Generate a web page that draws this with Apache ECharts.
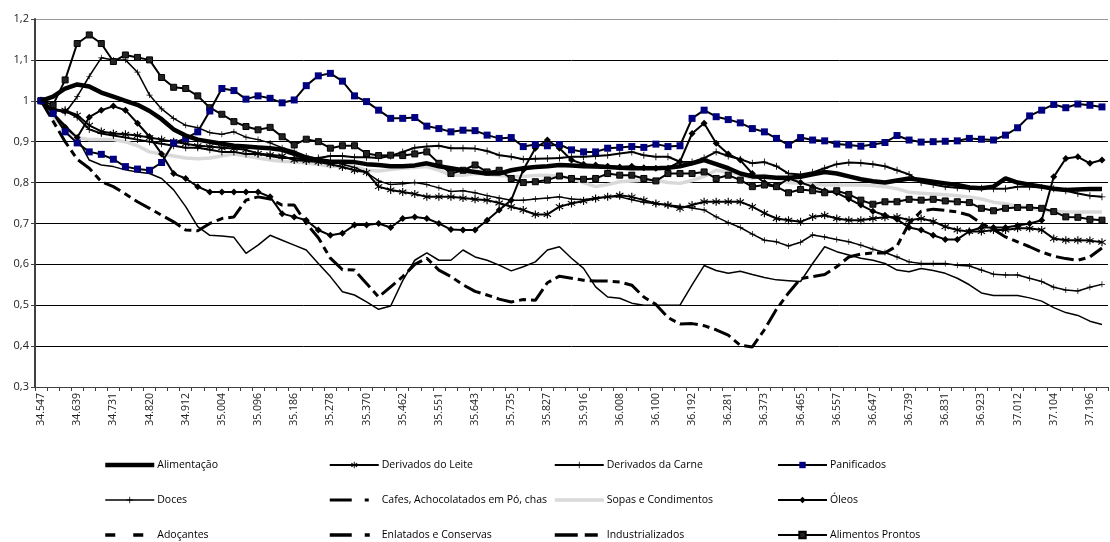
<!DOCTYPE html>
<html><head><meta charset="utf-8">
<script src="https://cdn.jsdelivr.net/npm/echarts@6/dist/echarts.min.js"></script>
<style>html,body{margin:0;padding:0;background:#fff}#c{width:1110px;height:542px}</style>
</head><body><div id="c"></div>
<script>
const categories = [34547,34578,34608,34639,34669,34700,34731,34759,34790,34820,34851,34881,34912,34943,34973,35004,35034,35065,35096,35125,35156,35186,35217,35247,35278,35309,35339,35370,35400,35431,35462,35490,35521,35551,35582,35612,35643,35674,35704,35735,35765,35796,35827,35855,35886,35916,35947,35977,36008,36039,36069,36100,36130,36161,36192,36220,36251,36281,36312,36342,36373,36404,36434,36465,36495,36526,36557,36586,36617,36647,36678,36708,36739,36770,36800,36831,36861,36892,36923,36951,36982,37012,37043,37073,37104,37135,37165,37196,37226];
const yTicks = [0.3,0.4,0.5,0.6,0.7,0.8,0.9,1.0,1.1,1.2];

const alimentacao = [1.0,1.01,1.03,1.04,1.035,1.02,1.01,1.0,0.99,0.975,0.955,0.93,0.915,0.905,0.9,0.895,0.89,0.888,0.886,0.884,0.88,0.87,0.86,0.855,0.851,0.851,0.85,0.845,0.843,0.84,0.84,0.842,0.847,0.84,0.835,0.83,0.826,0.822,0.822,0.83,0.835,0.838,0.84,0.843,0.842,0.84,0.839,0.838,0.836,0.835,0.835,0.835,0.836,0.84,0.847,0.855,0.845,0.835,0.822,0.815,0.814,0.812,0.812,0.814,0.82,0.826,0.822,0.815,0.808,0.803,0.8,0.805,0.81,0.806,0.802,0.798,0.794,0.788,0.786,0.79,0.81,0.8,0.795,0.79,0.785,0.782,0.783,0.784,0.784];
const derivadosLeite = [1.0,0.975,0.977,0.965,0.94,0.925,0.92,0.918,0.915,0.91,0.905,0.9,0.895,0.89,0.888,0.885,0.883,0.88,0.871,0.868,0.865,0.855,0.853,0.85,0.845,0.838,0.83,0.825,0.79,0.782,0.777,0.772,0.765,0.765,0.765,0.762,0.759,0.757,0.75,0.741,0.733,0.722,0.722,0.741,0.749,0.755,0.761,0.765,0.769,0.765,0.757,0.749,0.745,0.737,0.745,0.753,0.753,0.753,0.753,0.741,0.725,0.712,0.708,0.704,0.716,0.72,0.712,0.708,0.708,0.712,0.715,0.716,0.708,0.712,0.705,0.692,0.684,0.68,0.68,0.684,0.684,0.688,0.688,0.684,0.663,0.659,0.659,0.658,0.654];
const derivadosCarne = [1.0,0.98,0.975,0.96,0.93,0.92,0.915,0.91,0.905,0.9,0.895,0.89,0.885,0.885,0.88,0.875,0.875,0.87,0.87,0.865,0.86,0.86,0.855,0.86,0.865,0.865,0.862,0.862,0.86,0.865,0.875,0.885,0.888,0.89,0.884,0.884,0.883,0.877,0.867,0.863,0.857,0.858,0.859,0.86,0.863,0.863,0.865,0.867,0.871,0.875,0.867,0.863,0.863,0.851,0.85,0.86,0.875,0.865,0.857,0.847,0.85,0.84,0.822,0.82,0.825,0.835,0.845,0.849,0.848,0.845,0.84,0.83,0.82,0.8,0.795,0.79,0.787,0.785,0.786,0.785,0.785,0.79,0.79,0.788,0.785,0.78,0.773,0.768,0.765];
const panificados = [1.0,0.969,0.924,0.897,0.875,0.869,0.857,0.839,0.833,0.83,0.849,0.897,0.908,0.924,0.975,1.03,1.025,1.004,1.012,1.006,0.995,1.002,1.037,1.061,1.067,1.048,1.012,0.998,0.977,0.957,0.957,0.959,0.938,0.932,0.924,0.928,0.927,0.916,0.908,0.91,0.888,0.893,0.89,0.893,0.88,0.875,0.875,0.884,0.886,0.888,0.886,0.894,0.888,0.89,0.957,0.977,0.961,0.954,0.946,0.932,0.924,0.908,0.892,0.91,0.904,0.902,0.894,0.892,0.889,0.893,0.898,0.915,0.904,0.899,0.9,0.901,0.902,0.908,0.906,0.904,0.916,0.934,0.963,0.977,0.991,0.983,0.992,0.989,0.985];
const doces = [1.0,0.98,0.97,1.01,1.06,1.105,1.1,1.1,1.07,1.014,0.98,0.957,0.94,0.934,0.922,0.918,0.924,0.911,0.905,0.897,0.885,0.877,0.865,0.858,0.853,0.845,0.837,0.824,0.804,0.795,0.797,0.8,0.795,0.787,0.778,0.78,0.775,0.768,0.762,0.757,0.757,0.76,0.762,0.765,0.76,0.758,0.762,0.765,0.765,0.758,0.752,0.748,0.745,0.742,0.738,0.733,0.716,0.702,0.69,0.674,0.659,0.655,0.645,0.654,0.672,0.667,0.661,0.655,0.647,0.637,0.629,0.618,0.606,0.602,0.602,0.602,0.598,0.596,0.586,0.576,0.574,0.574,0.566,0.558,0.544,0.537,0.535,0.544,0.551];
const cafes = [1.0,0.97,0.94,0.91,0.855,0.843,0.839,0.831,0.826,0.822,0.81,0.782,0.741,0.692,0.671,0.669,0.666,0.627,0.647,0.671,0.659,0.647,0.635,0.602,0.57,0.533,0.525,0.508,0.49,0.498,0.56,0.61,0.628,0.61,0.61,0.635,0.618,0.61,0.598,0.584,0.594,0.606,0.635,0.643,0.615,0.59,0.545,0.52,0.517,0.505,0.5,0.5,0.5,0.5,0.55,0.597,0.585,0.578,0.583,0.575,0.568,0.562,0.56,0.558,0.602,0.643,0.631,0.623,0.615,0.61,0.602,0.586,0.582,0.59,0.585,0.578,0.566,0.55,0.53,0.524,0.524,0.524,0.518,0.51,0.494,0.482,0.475,0.461,0.453];
const sopas = [1.0,0.96,0.93,0.91,0.905,0.905,0.905,0.9,0.89,0.875,0.87,0.865,0.86,0.858,0.86,0.865,0.87,0.865,0.86,0.855,0.852,0.85,0.848,0.845,0.84,0.84,0.839,0.83,0.828,0.832,0.835,0.837,0.839,0.83,0.818,0.818,0.822,0.82,0.817,0.815,0.815,0.817,0.818,0.815,0.81,0.8,0.79,0.795,0.802,0.804,0.806,0.805,0.8,0.798,0.805,0.815,0.83,0.825,0.82,0.81,0.818,0.81,0.8,0.798,0.796,0.794,0.794,0.794,0.794,0.793,0.79,0.785,0.776,0.774,0.772,0.77,0.768,0.765,0.76,0.752,0.748,0.742,0.738,0.733,0.73,0.728,0.728,0.728,0.728];
const oleos = [1.0,0.97,0.935,0.91,0.96,0.977,0.987,0.977,0.945,0.912,0.87,0.822,0.81,0.79,0.777,0.777,0.777,0.777,0.777,0.765,0.724,0.716,0.708,0.684,0.671,0.676,0.696,0.696,0.7,0.69,0.712,0.716,0.712,0.7,0.685,0.684,0.684,0.708,0.733,0.757,0.831,0.884,0.904,0.884,0.855,0.845,0.843,0.84,0.838,0.84,0.836,0.835,0.835,0.851,0.92,0.945,0.896,0.87,0.855,0.822,0.8,0.79,0.81,0.8,0.79,0.78,0.775,0.76,0.745,0.73,0.72,0.71,0.69,0.684,0.671,0.661,0.661,0.681,0.69,0.69,0.69,0.695,0.7,0.708,0.814,0.859,0.863,0.847,0.855];
const adocantes = [];
const enlatados = [1.0,0.95,0.9,0.857,0.835,0.802,0.79,0.772,0.753,0.737,0.72,0.704,0.684,0.682,0.7,0.712,0.716,0.757,0.765,0.76,0.745,0.745,0.7,0.665,0.615,0.587,0.586,0.553,0.52,0.545,0.57,0.6,0.615,0.586,0.57,0.55,0.534,0.525,0.515,0.508,0.514,0.512,0.555,0.571,0.566,0.561,0.559,0.559,0.557,0.549,0.52,0.502,0.47,0.454,0.455,0.45,0.44,0.427,0.402,0.398,0.44,0.49,0.53,0.565,0.57,0.575,0.594,0.618,0.625,0.628,0.628,0.645,0.7,0.73,0.735,0.732,0.728,0.72,0.7,0.685,0.667,0.655,0.643,0.63,0.62,0.614,0.61,0.618,0.64];
const industrializados = [];
const alimentosProntos = [1.0,0.99,1.051,1.14,1.161,1.14,1.096,1.112,1.106,1.1,1.057,1.033,1.03,1.012,0.983,0.967,0.949,0.937,0.929,0.935,0.912,0.892,0.906,0.9,0.884,0.89,0.89,0.871,0.866,0.867,0.866,0.87,0.875,0.847,0.822,0.83,0.843,0.826,0.83,0.81,0.8,0.802,0.806,0.816,0.81,0.808,0.81,0.822,0.818,0.818,0.81,0.804,0.822,0.822,0.822,0.826,0.81,0.818,0.806,0.79,0.794,0.79,0.775,0.783,0.78,0.775,0.78,0.771,0.757,0.747,0.753,0.753,0.759,0.757,0.759,0.755,0.753,0.751,0.737,0.731,0.737,0.739,0.739,0.737,0.729,0.716,0.715,0.71,0.708];

const FONT = '"Open Sans", "Noto Sans", sans-serif';
const asterisk = 'path://M4.4,0h1.2v3.6l2.9-2.1l0.7,1l-3,2.1l3,2.1l-0.7,1l-2.9-2.1v3.6h-1.2v-3.6l-2.9,2.1l-0.7-1l3-2.1l-3-2.1l0.7-1l2.9,2.1z';
const plus = 'path://M4.4,0h1.2v4.4h4.4v1.2h-4.4v4.4h-1.2v-4.4h-4.4v-1.2h4.4z';

function mk(name, data, o) {
  return Object.assign({
    name, type: 'line', data, symbol: 'none', smooth: false,
    lineStyle: { color: '#000', width: 2 }, itemStyle: { color: '#000' },
    emphasis: { disabled: true }, animation: false
  }, o);
}
const series = [
  mk('Alimentação', alimentacao, { lineStyle: { color: '#000', width: 4.5 }, z: 5 }),
  mk('Derivados do Leite', derivadosLeite, { symbol: asterisk, symbolSize: 8 }),
  mk('Derivados da Carne', derivadosCarne, { symbol: plus, symbolSize: 7 }),
  mk('Panificados', panificados, { symbol: 'rect', symbolSize: 7, itemStyle: { color: '#000080' }, z: 4 }),
  mk('Doces', doces, { symbol: plus, symbolSize: 6, lineStyle: { color: '#000', width: 1.5 } }),
  mk('Cafes, Achocolatados em Pó, chas', cafes, { lineStyle: { color: '#000', width: 1.5 } }),
  mk('Sopas e Condimentos', sopas, { lineStyle: { color: '#d9d9d9', width: 3.5 }, itemStyle: { color: '#d9d9d9' }, z: 1 }),
  mk('Óleos', oleos, { symbol: 'diamond', symbolSize: 7 }),
  mk('Adoçantes', adocantes, { lineStyle: { color: '#000', width: 3.5, type: [10, 18] } }),
  mk('Enlatados e Conservas', enlatados, { lineStyle: { color: '#000', width: 3, type: [18, 5, 7, 5] } }),
  mk('Industrializados', industrializados, { lineStyle: { color: '#000', width: 3.5, type: [23, 7, 13, 7] } }),
  mk('Alimentos Prontos', alimentosProntos, { symbol: 'rect', symbolSize: 6, itemStyle: { color: '#222', borderColor: '#000', borderWidth: 1 } })
];
const legendStyles = {
  'Cafes, Achocolatados em Pó, chas': { lineStyle: { type: [22, 13, 4, 13], width: 3 } },
  'Enlatados e Conservas': { lineStyle: { type: [22, 13, 5, 13], width: 3.5 } }
};
function legendCol(left, idx) {
  return {
    orient: 'vertical', left, top: 459, padding: 0, itemWidth: 49, itemHeight: 8, itemGap: 23,
    lineStyle: { width: 'inherit' },
    data: idx.map(i => {
      const s = series[i];
      const d = { name: s.name };
      if (s.symbol === 'none') d.itemStyle = { opacity: 0 };
      if (legendStyles[s.name]) Object.assign(d, legendStyles[s.name]);
      return d;
    }),
    selectedMode: false,
    textStyle: { fontFamily: FONT, fontSize: 10.5, lineHeight: 12, color: '#000', padding: [0, 0, 0, -2] }
  };
}
const chart = echarts.init(document.getElementById('c'), null, { renderer: 'canvas' });
chart.setOption({
  animation: false,
  grid: { left: 35, right: 2, top: 19, bottom: 155, containLabel: false },
  legend: [legendCol(103, [0, 4, 8]), legendCol(328, [1, 5, 9]), legendCol(553, [2, 6, 10]), legendCol(777, [3, 7, 11])],
  xAxis: {
    type: 'category', data: categories, boundaryGap: true,
    axisLine: { lineStyle: { color: '#404040', width: 1 } },
    axisTick: { show: true, interval: 0, length: 4, lineStyle: { color: '#404040' } },
    axisLabel: { interval: 2, rotate: 90, fontFamily: FONT, fontSize: 10.5, color: '#222', margin: 6,
      formatter: v => { const s = String(v); return s.slice(0, 2) + '.' + s.slice(2); } }
  },
  yAxis: {
    type: 'value', min: yTicks[0], max: yTicks[yTicks.length - 1], interval: 0.1,
    axisLine: { show: true, lineStyle: { color: '#404040', width: 2 } },
    axisTick: { show: true, length: 4, lineStyle: { color: '#404040' } },
    splitLine: { show: true, lineStyle: { color: ['#000', '#000', '#000', '#000', '#000', '#000', '#000', '#000', '#000', '#999'], width: 1 } },
    axisLabel: { fontFamily: FONT, fontSize: 11, color: '#222', margin: 6,
      formatter: v => { const r = Math.round(v * 10) / 10; return r === 1 ? '1' : r.toFixed(1).replace('.', ','); } }
  },
  series
});
</script></body></html>
